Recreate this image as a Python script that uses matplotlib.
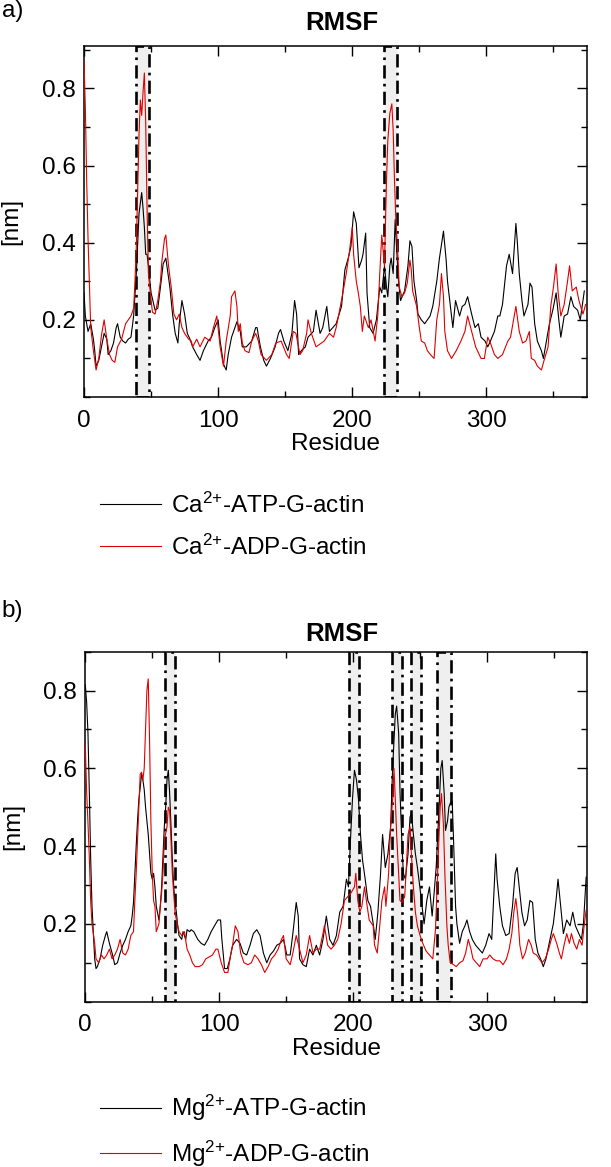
import matplotlib
matplotlib.use('Agg')
import matplotlib.pyplot as plt
from matplotlib.ticker import MultipleLocator

plt.rcParams['font.family'] = ['Liberation Sans', 'DejaVu Sans']
plt.rcParams['mathtext.default'] = 'regular'

# ---- panel a: Ca2+ bound G-actin ----
res_ca_atp = [0, 1, 3, 5, 7, 8, 9, 11, 13, 15, 17, 18, 20, 22, 24, 25, 27, 29, 31, 33, 35, 37, 39, 41, 43, 44, 45, 46, 47, 48,
              50, 53, 55, 57, 59, 61, 62, 64, 66, 68, 70, 71, 73, 75, 77, 79, 81, 84, 86.5, 89, 92.5, 95, 97.5, 100, 101.5,
              104, 106, 107.5, 110, 114, 116.5, 118, 121, 125, 128, 129, 131.5, 134, 136, 139, 142.5, 145, 146.5, 149, 152,
              155, 157, 158.5, 160, 162, 165, 167, 171, 173, 176, 178, 181, 183, 188, 192, 194.5, 197, 199, 201, 203, 205,
              207, 208, 210, 211, 213, 215.5, 218, 220.5, 222, 224, 225.5, 226.5, 228, 229, 230.5, 232, 233, 234.5, 236,
              239, 241.5, 243, 244.5, 246, 248, 249, 251.5, 254, 258, 260, 263, 265, 268, 270, 271, 273, 275, 277, 280,
              282, 284, 286, 289, 291.5, 294, 296, 299, 301, 303, 306, 308.5, 310, 312, 315, 317, 319.5, 321, 322, 323,
              324.5, 326.5, 328, 331, 332.5, 334, 336, 338, 341, 342.5, 344.5, 347, 349.5, 352, 354, 355.5, 358, 360.5,
              363, 365, 368, 370, 373]
rmsf_ca_atp = [0.27, 0.21, 0.17, 0.19, 0.15, 0.12, 0.08, 0.095, 0.13, 0.165, 0.15, 0.11, 0.12, 0.14, 0.18, 0.19, 0.155, 0.145,
               0.14, 0.15, 0.155, 0.21, 0.32, 0.475, 0.53, 0.49, 0.44, 0.37, 0.37, 0.34, 0.27, 0.225, 0.23, 0.285, 0.345,
               0.36, 0.335, 0.285, 0.215, 0.165, 0.14, 0.19, 0.25, 0.215, 0.165, 0.15, 0.13, 0.11, 0.095, 0.12, 0.145,
               0.155, 0.18, 0.2, 0.145, 0.085, 0.07, 0.11, 0.155, 0.195, 0.17, 0.13, 0.13, 0.145, 0.18, 0.18, 0.13, 0.095,
               0.08, 0.1, 0.13, 0.165, 0.175, 0.145, 0.12, 0.165, 0.25, 0.215, 0.11, 0.12, 0.13, 0.155, 0.17, 0.225,
               0.165, 0.18, 0.235, 0.17, 0.19, 0.235, 0.33, 0.36, 0.39, 0.48, 0.45, 0.335, 0.355, 0.37, 0.425, 0.27,
               0.18, 0.165, 0.2, 0.285, 0.27, 0.34, 0.285, 0.26, 0.34, 0.36, 0.32, 0.46, 0.39, 0.30, 0.25, 0.275, 0.34,
               0.405, 0.39, 0.30, 0.25, 0.215, 0.2, 0.19, 0.21, 0.235, 0.30, 0.36, 0.43, 0.355, 0.30, 0.24, 0.18, 0.25,
               0.21, 0.235, 0.24, 0.26, 0.215, 0.18, 0.19, 0.155, 0.145, 0.13, 0.145, 0.17, 0.21, 0.21, 0.24, 0.34, 0.37,
               0.32, 0.4, 0.45, 0.405, 0.32, 0.25, 0.21, 0.24, 0.295, 0.285, 0.19, 0.145, 0.12, 0.1, 0.14, 0.19, 0.225,
               0.27, 0.2, 0.155, 0.21, 0.215, 0.26, 0.235, 0.225, 0.2, 0.275]

res_ca_adp = [0, 1, 2, 3, 5, 7, 9, 11, 13, 15, 17, 19, 21, 23, 25, 28, 31, 33, 35, 37, 38, 39, 40, 41, 42, 43, 44, 45, 46, 47,
              48, 49, 51, 53, 55, 57, 58, 60, 61, 63, 65, 67, 69, 71, 73, 75, 78, 80, 81, 84, 86.5, 90, 94, 96.5, 99,
              101.5, 104, 106, 109, 110, 112.5, 114, 115, 116.5, 118, 120, 123, 125, 128, 130, 132, 136, 140, 143, 147,
              151, 153, 156, 158, 161, 163, 166, 167, 169.5, 173, 177, 179, 183, 186, 188, 190, 193, 195.5, 198, 200,
              201, 203, 204.5, 206, 207.5, 209, 212, 214, 217, 219, 220.5, 222, 224, 225.5, 226.5, 228, 229.5, 230.5,
              231.5, 232.5, 234, 235, 237, 239, 241, 243, 244, 245, 248, 250, 251.5, 254, 256, 259, 261, 263, 265,
              266.5, 268, 269, 271, 274, 277.5, 281, 284, 286, 289, 292, 296, 298.5, 301, 303, 306, 308.5, 312, 316,
              318, 321, 322, 324.5, 327, 329.5, 332, 333.5, 336, 338, 341, 343, 346, 348, 350, 352, 353.5, 355.5, 358,
              360.5, 362, 364, 367, 369, 372, 374]
rmsf_ca_adp = [0.87, 0.75, 0.56, 0.41, 0.18, 0.12, 0.07, 0.1, 0.16, 0.2, 0.15, 0.11, 0.095, 0.09, 0.13, 0.15, 0.19, 0.2,
               0.21, 0.23, 0.3, 0.39, 0.54, 0.68, 0.77, 0.73, 0.79, 0.84, 0.71, 0.49, 0.32, 0.285, 0.22, 0.215, 0.25,
               0.30, 0.35, 0.41, 0.42, 0.34, 0.285, 0.215, 0.2, 0.215, 0.18, 0.165, 0.15, 0.145, 0.13, 0.15, 0.13,
               0.155, 0.145, 0.18, 0.21, 0.13, 0.08, 0.145, 0.21, 0.26, 0.275, 0.235, 0.17, 0.19, 0.14, 0.12, 0.115,
               0.145, 0.165, 0.145, 0.11, 0.095, 0.11, 0.14, 0.145, 0.11, 0.1, 0.17, 0.165, 0.11, 0.12, 0.165, 0.2,
               0.165, 0.13, 0.14, 0.145, 0.165, 0.155, 0.18, 0.215, 0.27, 0.32, 0.38, 0.44, 0.37, 0.30, 0.27, 0.235,
               0.17, 0.21, 0.18, 0.2, 0.145, 0.21, 0.32, 0.42, 0.34, 0.56, 0.665, 0.735, 0.76, 0.69, 0.56, 0.46, 0.37,
               0.285, 0.26, 0.27, 0.295, 0.355, 0.33, 0.275, 0.235, 0.18, 0.145, 0.14, 0.12, 0.107, 0.1, 0.2, 0.24,
               0.32, 0.26, 0.17, 0.12, 0.1, 0.12, 0.145, 0.17, 0.21, 0.17, 0.13, 0.1, 0.1, 0.155, 0.14, 0.11, 0.1, 0.11,
               0.145, 0.155, 0.215, 0.235, 0.17, 0.14, 0.145, 0.17, 0.1, 0.095, 0.08, 0.07, 0.095, 0.13, 0.235, 0.285,
               0.345, 0.27, 0.21, 0.24, 0.30, 0.34, 0.275, 0.285, 0.25, 0.215, 0.24]

# ---- panel b: Mg2+ bound G-actin ----
res_mg_atp = [0, 1, 2, 3, 4, 5, 6, 7, 8, 9, 11, 13, 15, 16, 18, 20, 22, 24, 26, 28, 30, 32, 34, 35, 36, 37, 38, 39, 40, 41,
              42, 43, 44, 45, 46, 47, 48, 49, 50, 51, 52, 53, 55, 56, 57, 58, 59, 60, 61, 62, 63, 64, 65, 66, 67, 68,
              69, 70, 72, 73, 75, 76, 78, 79, 81, 84, 86.5, 89, 91.5, 94, 96.5, 99, 101, 102, 104, 106, 108, 110, 113,
              115.5, 118, 120.5, 123, 125.5, 128, 130.5, 133, 135.5, 138, 140.5, 143, 145.5, 148, 150.5, 153, 155,
              157.5, 159, 160, 162.5, 165, 167.5, 170, 172.5, 175, 177.5, 180, 182.5, 185, 187.5, 190, 192.5, 195,
              196.5, 198, 199.5, 201, 202.5, 204, 205.5, 207, 209, 211, 213, 215, 216.5, 218.5, 220.5, 222, 224, 226,
              228, 229.5, 231.5, 232.5, 234, 235, 236.5, 237.5, 239, 241, 242.5, 243.5, 245, 246.5, 248, 250, 251.5,
              253, 255, 257, 259, 260.5, 262, 264, 265.5, 266.5, 268, 269, 270.5, 271.5, 272.5, 274, 275, 276.5, 277.5,
              279.5, 281.5, 283.5, 285, 287, 289, 291.5, 294, 296.5, 299, 301.5, 303.5, 305, 306.5, 307.5, 309.5,
              311.5, 314, 316.5, 319, 321, 322.5, 324, 326, 328, 330, 332, 334, 336, 338, 340, 342, 344, 347, 349.5,
              351.5, 353, 355, 357, 359.5, 362, 364, 366, 368.5, 370.5, 372, 374]
rmsf_mg_atp = [0.815, 0.77, 0.69, 0.54, 0.37, 0.245, 0.18, 0.11, 0.085, 0.09, 0.11, 0.145, 0.17, 0.18, 0.15, 0.125, 0.095,
               0.1, 0.125, 0.145, 0.16, 0.18, 0.195, 0.22, 0.255, 0.33, 0.4, 0.465, 0.52, 0.55, 0.585, 0.57, 0.545, 0.5,
               0.465, 0.43, 0.38, 0.33, 0.315, 0.33, 0.295, 0.245, 0.21, 0.245, 0.295, 0.37, 0.45, 0.5, 0.57, 0.595,
               0.535, 0.45, 0.365, 0.295, 0.255, 0.23, 0.195, 0.17, 0.16, 0.18, 0.16, 0.185, 0.18, 0.185, 0.18, 0.16,
               0.15, 0.145, 0.16, 0.18, 0.195, 0.21, 0.21, 0.16, 0.085, 0.085, 0.11, 0.145, 0.16, 0.15, 0.125, 0.12,
               0.145, 0.175, 0.185, 0.17, 0.125, 0.1, 0.12, 0.13, 0.145, 0.15, 0.16, 0.12, 0.12, 0.175, 0.255, 0.22,
               0.11, 0.095, 0.09, 0.135, 0.12, 0.145, 0.12, 0.16, 0.22, 0.16, 0.145, 0.17, 0.23, 0.245, 0.315, 0.295,
               0.415, 0.52, 0.595, 0.57, 0.52, 0.43, 0.365, 0.315, 0.26, 0.245, 0.2, 0.16, 0.23, 0.33, 0.43, 0.345,
               0.38, 0.45, 0.6, 0.74, 0.76, 0.69, 0.54, 0.4, 0.33, 0.315, 0.38, 0.475, 0.485, 0.43, 0.38, 0.345, 0.29,
               0.245, 0.2, 0.26, 0.295, 0.22, 0.28, 0.345, 0.485, 0.6, 0.62, 0.535, 0.44, 0.465, 0.5, 0.51, 0.515,
               0.415, 0.245, 0.2, 0.15, 0.18, 0.195, 0.21, 0.18, 0.16, 0.145, 0.135, 0.125, 0.145, 0.175, 0.16, 0.27,
               0.38, 0.315, 0.245, 0.195, 0.17, 0.175, 0.245, 0.33, 0.345, 0.295, 0.23, 0.195, 0.21, 0.26, 0.255, 0.16,
               0.125, 0.11, 0.09, 0.11, 0.16, 0.2, 0.26, 0.315, 0.245, 0.175, 0.21, 0.195, 0.23, 0.195, 0.175, 0.16,
               0.2, 0.32]

res_mg_adp = [0, 1, 2, 3, 4, 5, 7, 8, 10, 12, 14, 16, 18, 20, 22, 24, 26, 28, 30, 32, 34, 36, 37, 38, 39, 40, 41, 42, 43, 44,
              45, 46, 47, 48, 49, 50, 51, 52, 53, 55, 56, 57, 58, 59, 61, 62, 63, 64, 65, 67, 68, 70, 72, 74, 76, 78,
              80, 82, 85, 87.5, 90, 92.5, 95, 97.5, 99, 101.5, 104, 106.5, 108.5, 110, 112, 114, 116, 118.5, 121.5, 124,
              126.5, 129, 131.5, 134, 136.5, 139, 141.5, 144, 146.5, 148, 150, 153, 155, 157.5, 160, 162.5, 165, 167.5,
              170, 172.5, 175, 177.5, 178.5, 181, 183.5, 186, 188.5, 191, 193.5, 196, 198.5, 201, 202, 203.5, 205,
              206.5, 208.5, 210.5, 212, 215, 216, 218, 220, 221.5, 223.5, 224.5, 226.5, 228, 229.5, 230.5, 231.5,
              232.5, 234, 235, 236.5, 238.5, 239.5, 241, 242.5, 243.5, 245, 246.5, 248, 250, 252, 254.5, 257, 259.5,
              261.5, 262.5, 264, 265, 266, 267.5, 268.5, 270, 271, 272.5, 275, 277, 279.5, 282, 284, 286, 288, 289.5,
              292, 294.5, 297, 300, 302, 304.5, 307, 309.5, 312, 314.5, 316.5, 318.5, 320, 321.5, 323, 324.5, 326.5,
              328.5, 331, 333, 334.5, 337, 339, 341, 343.5, 346, 348, 349.5, 352, 354, 355.5, 357.5, 359.5, 361.5, 363,
              365, 367, 369, 371, 372.5, 374]
rmsf_mg_adp = [0.66, 0.54, 0.46, 0.37, 0.26, 0.2, 0.15, 0.11, 0.1, 0.12, 0.11, 0.12, 0.135, 0.11, 0.12, 0.135, 0.16, 0.125,
               0.12, 0.135, 0.17, 0.18, 0.26, 0.33, 0.415, 0.5, 0.585, 0.59, 0.57, 0.6, 0.7, 0.8, 0.83, 0.67, 0.46, 0.33,
               0.26, 0.245, 0.18, 0.2, 0.245, 0.28, 0.33, 0.415, 0.45, 0.5, 0.49, 0.415, 0.33, 0.23, 0.21, 0.18, 0.17,
               0.18, 0.135, 0.12, 0.1, 0.09, 0.09, 0.095, 0.11, 0.115, 0.12, 0.135, 0.135, 0.1, 0.075, 0.075, 0.12,
               0.145, 0.195, 0.18, 0.125, 0.1, 0.095, 0.1, 0.12, 0.11, 0.095, 0.075, 0.09, 0.11, 0.12, 0.135, 0.16,
               0.17, 0.11, 0.095, 0.125, 0.17, 0.135, 0.1, 0.12, 0.17, 0.125, 0.135, 0.135, 0.175, 0.195, 0.145, 0.135,
               0.145, 0.16, 0.2, 0.26, 0.27, 0.28, 0.295, 0.33, 0.26, 0.23, 0.245, 0.295, 0.245, 0.21, 0.195, 0.145,
               0.125, 0.2, 0.26, 0.295, 0.245, 0.33, 0.45, 0.52, 0.6, 0.52, 0.43, 0.33, 0.26, 0.255, 0.27, 0.33, 0.43,
               0.45, 0.38, 0.295, 0.23, 0.195, 0.17, 0.15, 0.13, 0.12, 0.11, 0.185, 0.28, 0.415, 0.5, 0.535, 0.45,
               0.33, 0.195, 0.145, 0.1, 0.095, 0.09, 0.1, 0.105, 0.125, 0.16, 0.135, 0.11, 0.1, 0.09, 0.11, 0.11, 0.12,
               0.11, 0.105, 0.105, 0.095, 0.11, 0.135, 0.175, 0.23, 0.265, 0.22, 0.145, 0.11, 0.125, 0.16, 0.145,
               0.125, 0.12, 0.11, 0.1, 0.11, 0.135, 0.16, 0.175, 0.15, 0.125, 0.11, 0.145, 0.175, 0.15, 0.175, 0.15,
               0.135, 0.16, 0.145, 0.195, 0.235]

# highlighted residue ranges (dash-dot boxes)
regions_ca = [(38.5, 48.5), (224, 233)]
regions_mg = [(59.5, 67), (197, 204.5), (229, 236.5), (243.5, 250.5), (262.5, 273)]

labels_ca = ['Ca$^{2{+}}$-ATP-G-actin', 'Ca$^{2{+}}$-ADP-G-actin']
labels_mg = ['Mg$^{2{+}}$-ATP-G-actin', 'Mg$^{2{+}}$-ADP-G-actin']


def draw_panel(ax, res_atp, rmsf_atp, res_adp, rmsf_adp, regions, ytop):
    for x0, x1 in regions:
        ax.axvspan(x0, x1, facecolor='#efefef', edgecolor='black', linestyle=(0, (5, 2, 1, 2)),
                   linewidth=1.9, zorder=1)
    l1, = ax.plot(res_atp, rmsf_atp, color='black', lw=0.8, zorder=2)
    l2, = ax.plot(res_adp, rmsf_adp, color='#e00000', lw=0.8, zorder=3)
    ax.set_xlim(0, 375)
    ax.set_ylim(0, ytop)
    ax.xaxis.set_minor_locator(MultipleLocator(50))
    ax.yaxis.set_minor_locator(MultipleLocator(0.1))
    ax.set_xticks([0, 100, 200, 300])
    ax.set_yticks([0.2, 0.4, 0.6, 0.8])
    ax.tick_params(which='both', direction='in', top=True, right=True, labelsize=17.5, width=1)
    ax.tick_params(which='major', length=7)
    ax.tick_params(which='minor', length=4)
    ax.tick_params(axis='x', which='major', pad=9)
    ax.tick_params(axis='y', which='major', pad=6)
    ax.set_xlabel('Residue', fontsize=17.5, labelpad=1)
    ax.set_ylabel('[nm]', fontsize=17.5)
    ax.yaxis.set_label_coords(-0.122, 0.5)
    for s in ax.spines.values():
        s.set_linewidth(1.1)
    return l1, l2


fig = plt.figure(figsize=(6.11, 11.67), dpi=100)

ax1 = fig.add_axes([0.1375, 0.6598, 0.8232, 0.3008])
h = draw_panel(ax1, res_ca_atp, rmsf_ca_atp, res_ca_adp, rmsf_ca_adp, regions_ca, 0.91)
ax1.legend(h, labels_ca, loc='center left', bbox_to_anchor=(0.1637, 0.5493), bbox_transform=fig.transFigure,
           frameon=False, fontsize=17.5, handlelength=2.5, handletextpad=0.4, labelspacing=0.68,
           borderpad=0, borderaxespad=0)

ax2 = fig.add_axes([0.1396, 0.1417, 0.8219, 0.2999])
h = draw_panel(ax2, res_mg_atp, rmsf_mg_atp, res_mg_adp, rmsf_mg_adp, regions_mg, 0.9)
ax2.legend(h, labels_mg, loc='center left', bbox_to_anchor=(0.1637, 0.031), bbox_transform=fig.transFigure,
           frameon=False, fontsize=17.5, handlelength=2.5, handletextpad=0.4, labelspacing=0.62,
           borderpad=0, borderaxespad=0)

fig.text(0.003, 0.9906, 'a)', fontsize=17.5, va='center', ha='left')
fig.text(0.559, 0.9807, 'RMSF', fontsize=18.5, fontweight='bold', va='center', ha='center')
fig.text(0.003, 0.4764, 'b)', fontsize=17.5, va='center', ha='left')
fig.text(0.559, 0.4567, 'RMSF', fontsize=18.5, fontweight='bold', va='center', ha='center')

fig.savefig('out.png', dpi=100)
